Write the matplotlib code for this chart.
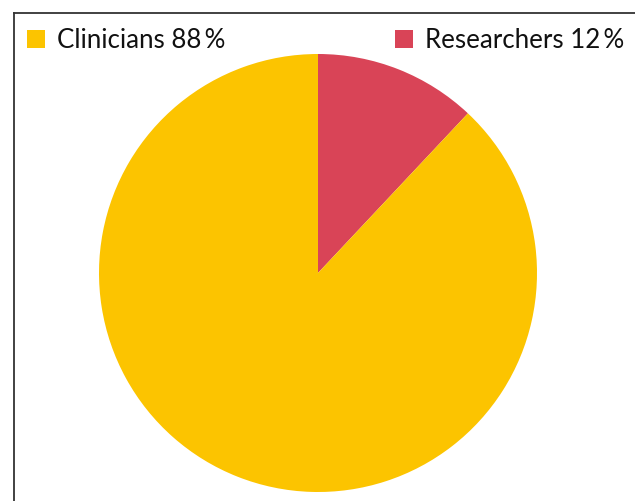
import matplotlib
matplotlib.use("Agg")
import matplotlib.pyplot as plt
from matplotlib.patches import Rectangle
from matplotlib.lines import Line2D

categories = ["Clinicians", "Researchers"]
values = [88, 12]
colors = ["#FCC400", "#D94457"]

W, H = 635, 501
fig = plt.figure(figsize=(W / 100, H / 100), dpi=100)
fig.patch.set_facecolor("white")

def fx(px):
    return px / W

def fy(py):
    return 1 - py / H

# frame lines (left and top)
fig.add_artist(Line2D([fx(13.5), fx(13.5)], [fy(12.5), 0], color="#333333", lw=1.3))
fig.add_artist(Line2D([fx(13.5), 1], [fy(12.5), fy(12.5)], color="#333333", lw=1.3))

cx, cy, r = 318, 273, 219
ax = fig.add_axes([fx(cx - r), fy(cy + r), 2 * r / W, 2 * r / H])
ax.pie(values[::-1], colors=colors[::-1], startangle=90, counterclock=False,
       radius=1, wedgeprops=dict(linewidth=0))
ax.set_xlim(-1, 1)
ax.set_ylim(-1, 1)
ax.set_aspect("auto")
ax.axis("off")

# legend
items = [(27, 57), (395, 425)]
for (sq_x, tx), cat, val, col in zip(items, categories, values, colors):
    fig.add_artist(Rectangle((fx(sq_x), fy(48)), 18 / W, 18 / H, color=col,
                             transform=fig.transFigure, lw=0))
    fig.text(fx(tx), fy(48), f"{cat} {val}\u2009%", fontsize=18.6, family=["Lato", "DejaVu Sans"],
             color="#111111", va="baseline", ha="left")

fig.savefig("out.png", dpi=100)
